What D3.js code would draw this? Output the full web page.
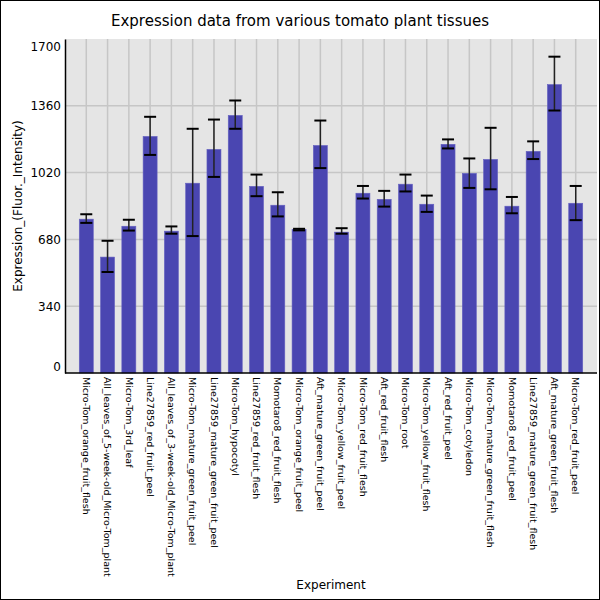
<!DOCTYPE html>
<html>
<head>
<meta charset="utf-8">
<script src="https://cdn.jsdelivr.net/npm/d3@7"></script>
<style>
  body { margin: 0; background: #fff; }
  svg { display: block; font-family: "DejaVu Sans", sans-serif; }
</style>
</head>
<body>
<svg id="chart" width="600" height="600"></svg>
<script>
// Tissue names, in the order drawn
const experiments = [
    'Micro-Tom_orange_fruit_flesh', 'All_leaves_of_5-week-old_Micro-Tom_plant', 'Micro-Tom_3rd_leaf',
    'Line27859_red_fruit_peel', 'All_leaves_of_3-week-old_Micro-Tom_plant', 'Micro-Tom_mature_green_fruit_peel',
    'Line27859_mature_green_fruit_peel', 'Micro-Tom_hypocotyl', 'Line27859_red_fruit_flesh',
    'Momotaro8_red_fruit_flesh', 'Micro-Tom_orange_fruit_peel', 'Aft_mature_green_fruit_peel',
    'Micro-Tom_yellow_fruit_peel', 'Micro-Tom_red_fruit_flesh', 'Aft_red_fruit_flesh',
    'Micro-Tom_root', 'Micro-Tom_yellow_fruit_flesh', 'Aft_red_fruit_peel',
    'Micro-Tom_cotyledon', 'Micro-Tom_mature_green_fruit_flesh', 'Momotaro8_red_fruit_peel',
    'Line27859_mature_green_fruit_flesh', 'Aft_mature_green_fruit_flesh', 'Micro-Tom_red_fruit_peel'
];

// Mean expression and error bar ends
const expression = [783, 590, 747, 1204, 722, 966, 1138, 1311, 950, 854, 731, 1158,
                    717, 915, 884, 961, 859, 1164, 1016, 1087, 849, 1128, 1468, 864];
const errHigh = [808, 673, 780, 1304, 746, 1243, 1290, 1387, 1010, 920, 734, 1285,
                 737, 952, 927, 1010, 903, 1189, 1092, 1248, 896, 1179, 1610, 952];
const errLow = [764, 514, 725, 1110, 709, 697, 998, 1243, 900, 797, 726, 1043,
                709, 888, 847, 924, 820, 1143, 942, 935, 813, 1089, 1336, 778];

const yTicks = [0, 340, 680, 1020, 1360, 1700];

const data = experiments.map((name, i) => ({
    name: name, value: expression[i], hi: errHigh[i], lo: errLow[i]
}));

const margin = {top: 39, right: 3, bottom: 227, left: 65};
const width = 600 - margin.left - margin.right;
const height = 600 - margin.top - margin.bottom;

const svg = d3.select('#chart');

// outer frame
svg.append('rect')
    .attr('x', 0.5).attr('y', 0.5)
    .attr('width', 599).attr('height', 599)
    .attr('fill', '#fff')
    .attr('stroke', '#000');

svg.append('text')
    .attr('x', 300)
    .attr('y', 26)
    .attr('text-anchor', 'middle')
    .style('font-size', '15px')
    .text('Expression data from various tomato plant tissues');

const g = svg.append('g')
    .attr('transform', `translate(${margin.left},${margin.top})`);

// bars sit on positions 1..n of n+1 slots
const x = d3.scaleLinear()
    .domain([0, experiments.length + 1])
    .range([0, width]);

const y = d3.scaleLinear()
    .domain([0, 1700])
    .range([height, 0]);

g.append('rect')
    .attr('width', width)
    .attr('height', height)
    .attr('fill', '#e5e5e5');

// grid
g.selectAll('.vgrid')
    .data(data)
    .enter().append('line')
    .attr('x1', (d, i) => x(i + 1))
    .attr('x2', (d, i) => x(i + 1))
    .attr('y1', 0)
    .attr('y2', height)
    .attr('stroke', '#c6c6c6')
    .attr('stroke-width', 1.5);

g.selectAll('.hgrid')
    .data(yTicks.slice(1, -1))
    .enter().append('line')
    .attr('x1', 0)
    .attr('x2', width)
    .attr('y1', d => y(d))
    .attr('y2', d => y(d))
    .attr('stroke', '#c6c6c6')
    .attr('stroke-width', 1.5);

const barW = 14;

g.selectAll('.bar')
    .data(data)
    .enter().append('rect')
    .attr('x', (d, i) => x(i + 1) - barW / 2)
    .attr('y', d => y(d.value))
    .attr('width', barW)
    .attr('height', d => height - y(d.value))
    .attr('fill', '#4a46b1')
    .attr('stroke', '#6460c0')
    .attr('stroke-width', 0.6);

// error bars
const capW = 12;
const err = g.selectAll('.err')
    .data(data)
    .enter().append('g');

err.append('line')
    .attr('x1', (d, i) => x(i + 1))
    .attr('x2', (d, i) => x(i + 1))
    .attr('y1', d => y(d.hi))
    .attr('y2', d => y(d.lo))
    .attr('stroke', '#222')
    .attr('stroke-width', 1.5);

['hi', 'lo'].forEach(k => {
    err.append('line')
        .attr('x1', (d, i) => x(i + 1) - capW / 2)
        .attr('x2', (d, i) => x(i + 1) + capW / 2)
        .attr('y1', d => y(d[k]))
        .attr('y2', d => y(d[k]))
        .attr('stroke', '#000')
        .attr('stroke-width', 2);
});

// y axis
const yAxis = g.append('g')
    .call(d3.axisLeft(y).tickValues(yTicks).tickFormat(d3.format('d')).tickSize(0).tickPadding(4));
yAxis.select('.domain').attr('stroke', '#000').attr('stroke-width', 1.5);
yAxis.selectAll('text')
    .style('font-size', '12px')
    .style('font-family', '"DejaVu Sans", sans-serif')
    .attr('fill', '#000')
    .attr('transform', d => d === 0 ? 'translate(0,-6)' : d === 1700 ? 'translate(0,8)' : null);

// x axis baseline
g.append('line')
    .attr('x1', 0).attr('x2', width)
    .attr('y1', height).attr('y2', height)
    .attr('stroke', '#000')
    .attr('stroke-width', 1.5);

g.selectAll('.xlab')
    .data(data)
    .enter().append('text')
    .attr('transform', (d, i) => `translate(${x(i + 1)},${height + 4}) rotate(90)`)
    .attr('dy', '0.35em')
    .style('font-size', '9.5px')
    .text(d => d.name);

g.append('text')
    .attr('x', width / 2)
    .attr('y', height + 216)
    .attr('text-anchor', 'middle')
    .style('font-size', '12px')
    .text('Experiment');

g.append('text')
    .attr('transform', 'rotate(-90)')
    .attr('x', -height / 2)
    .attr('y', -43)
    .attr('text-anchor', 'middle')
    .style('font-size', '12px')
    .text('Expression_(Fluor._Intensity)');
</script>
</body>
</html>
